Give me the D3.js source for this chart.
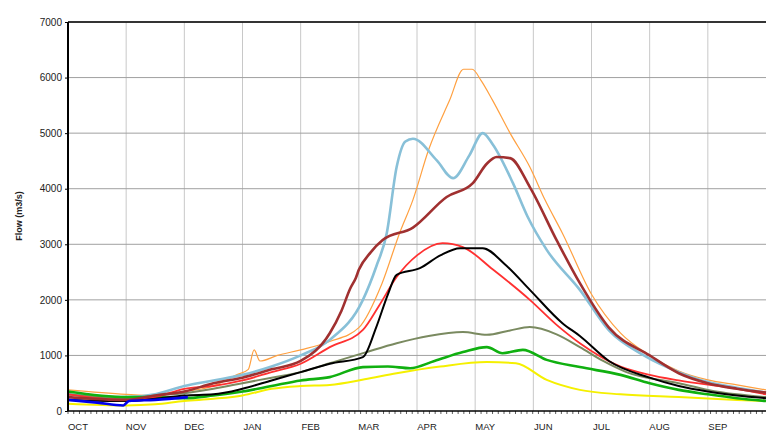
<!DOCTYPE html><html><head><meta charset="utf-8"><script src="https://cdn.jsdelivr.net/npm/d3@7"></script>
<style>body{margin:0;background:#fff}text{font-family:"Liberation Sans",Arial,sans-serif}</style></head><body><svg id="c" width="770" height="433"></svg><script>
const months=["OCT","NOV","DEC","JAN","FEB","MAR","APR","MAY","JUN","JUL","AUG","SEP"];
const yTicks=[0,1000,2000,3000,4000,5000,6000,7000];
const orange=[[0,380],[1,300],[1.5,280],[2,350],[2.5,450],[2.9,650],[3.1,750],[3.2,1100],[3.3,900],[3.6,1000],[4,1100],[4.5,1250],[5,1500],[5.4,2300],[5.7,3200],[5.93,3800],[6.2,4700],[6.56,5590],[6.8,6150],[6.95,6150],[7.1,5950],[7.3,5590],[7.6,5000],[7.94,4390],[8.2,3800],[8.5,3200],[9,2100],[9.5,1400],[10,1000],[10.5,720],[11,560],[11.5,470],[12,380]];
const lightblue=[[0,300],[1,250],[1.5,300],[2,450],[2.5,550],[3,650],[3.5,800],[4,1000],[4.5,1280],[5.07,2000],[5.3,2600],[5.48,3200],[5.65,4390],[5.8,4850],[5.93,4900],[6.34,4510],[6.62,4190],[6.9,4600],[7.13,5000],[7.3,4800],[7.65,4100],[7.9,3500],[8.23,2900],[8.8,2180],[9.3,1450],[9.9,1000],[10.5,700],[11,520],[11.5,420],[12,330]];
const brown=[[0,250],[1,200],[1.5,280],[2,350],[2.5,500],[3,600],[3.5,750],[4,900],[4.5,1400],[4.7,1800],[4.85,2200],[4.95,2400],[5.0,2540],[5.2,2850],[5.41,3075],[5.93,3300],[6.51,3850],[6.96,4100],[7.2,4450],[7.37,4570],[7.6,4550],[7.94,4030],[8.4,3075],[8.8,2300],[9.3,1500],[10,1000],[10.5,680],[11,500],[11.5,400],[12,330]];
const red=[[0,300],[1,200],[1.5,250],[2,400],[2.5,450],[3,550],[3.5,700],[4,850],[4.5,1150],[5.07,1460],[5.35,1900],[5.65,2410],[6.0,2800],[6.44,3020],[6.79,2950],[7.3,2550],[7.94,2000],[8.4,1550],[8.8,1220],[9.5,800],[10,650],[10.5,550],[11.5,400],[12,300]];
const black=[[0,200],[1,180],[1.5,220],[2,280],[2.5,300],[3,400],[3.5,550],[4,700],[4.5,850],[5.07,970],[5.3,1510],[5.5,2100],[5.65,2450],[6.05,2570],[6.4,2800],[6.74,2930],[7.13,2930],[7.5,2650],[7.94,2180],[8.5,1580],[8.8,1350],[9.3,900],[10,600],[10.5,450],[11,350],[11.5,280],[12,230]];
const olive=[[0,300],[1,230],[1.5,280],[2,320],[2.5,400],[3,500],[3.5,600],[4,700],[4.5,860],[5.1,1050],[5.65,1220],[6.2,1350],[6.79,1420],[7.2,1370],[7.6,1450],[7.94,1510],[8.4,1380],[8.8,1150],[9.2,900],[9.6,700],[10.5,500],[11,380],[11.5,300],[12,250]];
const green=[[0,350],[1,250],[1.5,250],[2,230],[2.5,280],[3,350],[3.5,450],[4,550],[4.5,610],[5.07,790],[5.5,800],[5.88,770],[6.3,900],[6.79,1060],[7.2,1150],[7.47,1040],[7.82,1100],[8.23,920],[8.8,790],[9.5,650],[10,500],[10.5,380],[11,300],[11.5,230],[12,180]];
const yellow=[[0,130],[1,100],[1.5,120],[2,180],[2.5,220],[3,280],[3.5,400],[4,450],[4.5,470],[5.1,570],[5.65,680],[6.4,800],[7.2,880],[7.7,860],[8.23,560],[8.8,380],[9.5,300],[10.5,250],[11.5,200],[12,180]];
const current=[[0,200],[0.5,150],[0.95,100],[1.05,180],[1.5,200],[2.06,250]];
const series=[[orange,"#ffa040",1.2],[lightblue,"#88c0d8",2.6],[olive,"#7a8a60",2],[yellow,"#f5f000",2],[green,"#10b010",2.6],[red,"#ff3030",1.8],[black,"#000",2],[brown,"#a03030",2.6],[current,"#0000ee",2.6]];
const svg=d3.select("#c");
const L=68,R=766,T=22,B=411;
const x=d3.scaleLinear().domain([0,12]).range([L,R]);
const y=d3.scaleLinear().domain([0,7000]).range([B,T]);
const g=svg.append("g");
g.selectAll(".vg").data(d3.range(1,12)).join("line").attr("x1",d=>x(d)).attr("x2",d=>x(d)).attr("y1",T).attr("y2",B).attr("stroke","#c8c8c8").attr("stroke-width",1);
g.selectAll(".hg").data(yTicks.slice(1)).join("line").attr("x1",L).attr("x2",R).attr("y1",d=>y(d)).attr("y2",d=>y(d)).attr("stroke","#a0a0a0").attr("stroke-width",1);
g.append("g").attr("transform",`translate(${L},0)`).call(d3.axisLeft(y).tickValues(yTicks).tickSize(3).tickFormat(d3.format("d"))).call(a=>{a.select(".domain").remove();a.selectAll("text").attr("font-size",10).attr("fill","#222");});
const line=d3.line().x(d=>x(d[0])).y(d=>y(d[1])).curve(d3.curveMonotoneX);
series.forEach(([d,c,w])=>g.append("path").attr("d",line(d)).attr("fill","none").attr("stroke",c).attr("stroke-width",w));
// day ticks
g.selectAll(".dt").data(d3.range(0,365,3)).join("line").attr("x1",d=>x(d*12/365)).attr("x2",d=>x(d*12/365)).attr("y1",B).attr("y2",B+3).attr("stroke","#333").attr("stroke-width",0.8);
g.append("line").attr("x1",L).attr("x2",L).attr("y1",T).attr("y2",B).attr("stroke","#000").attr("stroke-width",2);
g.append("line").attr("x1",L).attr("x2",R).attr("y1",T).attr("y2",T).attr("stroke","#000").attr("stroke-width",1.5);
g.append("line").attr("x1",L).attr("x2",R).attr("y1",B).attr("y2",B).attr("stroke","#000").attr("stroke-width",1.5);
g.selectAll(".ml").data(months).join("text").attr("x",(d,i)=>x(i)+10).attr("y",430).attr("text-anchor","middle").attr("font-size",9.5).attr("fill","#222").text(d=>d);
svg.append("text").attr("transform","translate(22,216) rotate(-90)").attr("text-anchor","middle").attr("font-size",9).attr("font-weight","bold").attr("fill","#222").text("Flow (m3/s)");
</script></body></html>
